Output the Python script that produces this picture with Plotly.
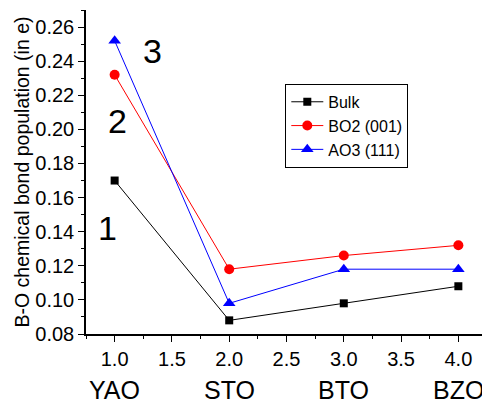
import plotly.graph_objects as go

x_vals = [1.0, 2.0, 3.0, 4.0]
categories = ["YAO", "STO", "BTO", "BZO"]
bulk = [0.170, 0.088, 0.098, 0.108]
bo2_001 = [0.232, 0.118, 0.126, 0.132]
ao3_111 = [0.252, 0.098, 0.118, 0.118]
region_labels = ["1", "2", "3"]
region_x = [0.936, 1.024, 1.33]
region_y = [0.142, 0.205, 0.246]

FONT = "Liberation Sans, Arial, sans-serif"

fig = go.Figure()
fig.add_trace(go.Scatter(x=x_vals, y=bulk, name="Bulk", mode="lines+markers",
                         line=dict(color="black", width=1),
                         marker=dict(symbol="square", size=8, color="black")))
fig.add_trace(go.Scatter(x=x_vals, y=bo2_001, name="BO2 (001)", mode="lines+markers",
                         line=dict(color="red", width=1),
                         marker=dict(symbol="circle", size=10, color="red")))
fig.add_trace(go.Scatter(x=x_vals, y=ao3_111, name="AO3 (111)", mode="lines+markers",
                         line=dict(color="blue", width=1),
                         marker=dict(symbol="triangle-up", size=11, color="blue")))

for c, xv in zip(categories, x_vals):
    fig.add_annotation(x=xv, y=-0.172, xref="x", yref="paper", text=c, showarrow=False,
                       font=dict(size=25, color="black", family=FONT), yanchor="middle")
for t, xv, yv in zip(region_labels, region_x, region_y):
    fig.add_annotation(x=xv, y=yv, xref="x", yref="y", text=t, showarrow=False,
                       font=dict(size=34, color="black", family=FONT))

fig.update_layout(
    width=482, height=396,
    margin=dict(l=78, r=3, t=2, b=70, autoexpand=False),
    paper_bgcolor="white", plot_bgcolor="white",
    font=dict(family=FONT, color="black"),
    showlegend=True,
    legend=dict(x=0.497, y=0.772, xanchor="left", yanchor="top",
                bordercolor="black", borderwidth=1, bgcolor="white",
                font=dict(size=16, family=FONT), tracegroupgap=0, itemwidth=32),
    xaxis=dict(range=[0.75, 4.25], dtick=0.5, tick0=1.0, tickformat=".1f",
               showline=True, linecolor="black", linewidth=1.5, showgrid=False, zeroline=False,
               ticks="outside", ticklen=6, tickwidth=1.2, tickcolor="black",
               tickfont=dict(size=20, family=FONT),
               minor=dict(ticks="outside", ticklen=3, dtick=0.25, tick0=0.75, tickcolor="black", showgrid=False)),
    yaxis=dict(range=[0.08, 0.27], dtick=0.02, tick0=0.08, tickformat=".2f",
               showline=True, linecolor="black", linewidth=1.5, showgrid=False, zeroline=False,
               ticks="outside", ticklen=6, tickwidth=1.2, tickcolor="black",
               tickfont=dict(size=20, family=FONT), automargin=False,
               title=dict(text="B-O chemical bond population (in e)", font=dict(size=19.5, family=FONT), standoff=0),
               minor=dict(ticks="outside", ticklen=3, dtick=0.01, tickcolor="black", showgrid=False)),
)

fig.write_html("out.html")
